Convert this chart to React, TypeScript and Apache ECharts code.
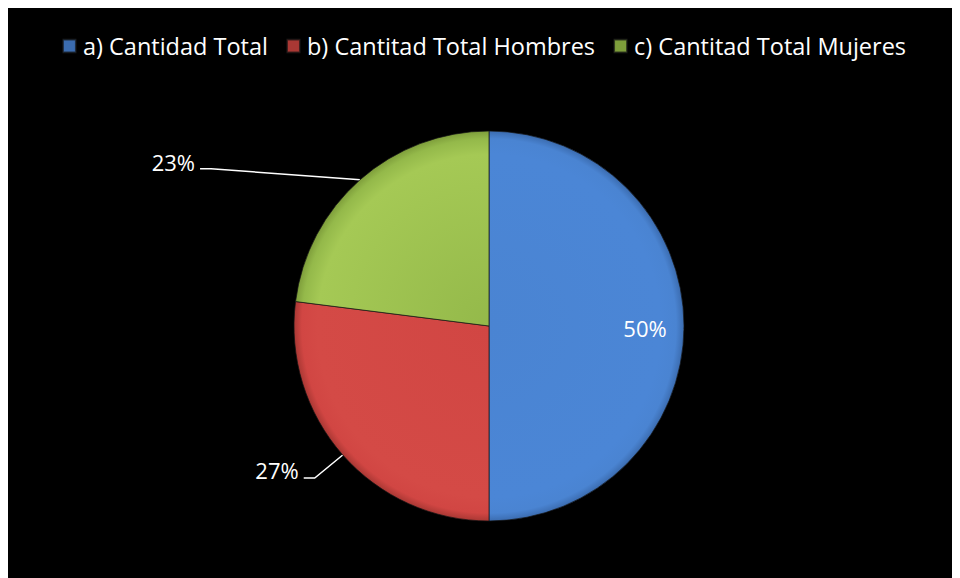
import React, { useEffect, useRef } from "react";
import * as echarts from "echarts";

const categories = ["a) Cantidad Total", "b) Cantitad Total Hombres", "c) Cantitad Total Mujeres"];
const values = [50, 27, 23];
const colors = [
  ["#4a84d2", "#4b86d6", "#3b6cb0"],
  ["#d14643", "#d44a46", "#aa3834"],
  ["#94b94a", "#a5c955", "#7e9e3b"],
];

const CX = 481;
const CY = 320;
const R = 195;
const FONT = "'Open Sans', 'Noto Sans', sans-serif";

export default function App() {
  const ref = useRef<HTMLDivElement>(null);
  useEffect(() => {
    if (!ref.current) return;
    const chart = echarts.init(ref.current, null, { renderer: "svg" });
    const grad = (c: string[]) =>
      new echarts.graphic.RadialGradient(
        CX,
        CY,
        R,
        [
          { offset: 0, color: c[0] },
          { offset: 0.88, color: c[1] },
          { offset: 0.96, color: c[0] },
          { offset: 1, color: c[2] },
        ],
        true
      );
    chart.setOption({
      animation: false,
      backgroundColor: "#000000",
      legend: {
        top: 23,
        left: "center",
        itemWidth: 13,
        itemHeight: 13,
        itemGap: 18,
        icon: "rect",
        textStyle: { color: "#ffffff", fontSize: 23.5, fontFamily: FONT, padding: [0, 0, 0, 2] },
        data: categories,
      },
      series: [
        {
          type: "pie",
          center: [CX, CY],
          radius: R,
          startAngle: 90,
          clockwise: true,
          avoidLabelOverlap: false,
          itemStyle: { borderColor: "rgba(20,20,20,0.7)", borderWidth: 1 },
          label: {
            show: true,
            color: "#ffffff",
            fontSize: 22,
            fontFamily: FONT,
            formatter: (p: any) => Math.round(p.percent) + "%",
          },
          labelLine: { show: true, lineStyle: { color: "#ffffff", width: 1.5 } },
          emphasis: { disabled: true },
          labelLayout: (p: any) => {
            const pts = p.labelLinePoints;
            if (p.dataIndex === 0) {
              return { x: CX + R * 0.8, y: CY + 2, align: "center", verticalAlign: "middle" };
            }
            if (!pts) return {};
            const s = pts[0];
            if (p.dataIndex === 1) {
              const b = [s[0] - 28, s[1] + 23];
              const e = [b[0] - 11, b[1]];
              return {
                x: e[0] - 5,
                y: e[1] - 8,
                align: "right",
                verticalAlign: "middle",
                labelLinePoints: [s, b, e],
              };
            }
            const b = [s[0] - 149, s[1] - 11];
            const e = [b[0] - 11, b[1]];
            return {
              x: e[0] - 5,
              y: e[1] - 7,
              align: "right",
              verticalAlign: "middle",
              labelLinePoints: [s, b, e],
            };
          },
          data: categories.map((name, i) => ({
            name,
            value: values[i],
            itemStyle: { color: grad(colors[i]) },
            label: i === 0 ? { position: "inside" } : { position: "outside" },
          })),
        },
      ],
      color: colors.map((c) => c[0]),
    });
    return () => chart.dispose();
  }, []);
  return <div ref={ref} style={{ width: 952, height: 572, marginTop: -2 }} />;
}
